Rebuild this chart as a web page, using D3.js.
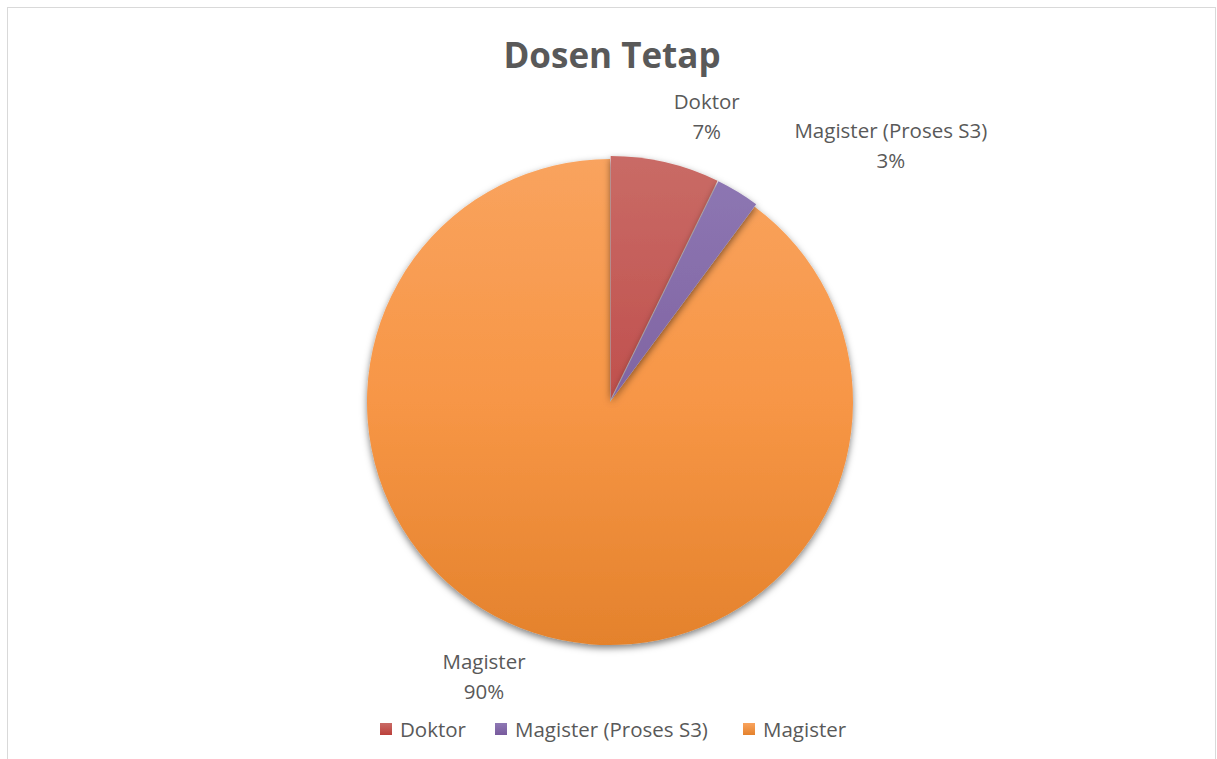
<!DOCTYPE html>
<html>
<head>
<meta charset="utf-8">
<script src="https://cdn.jsdelivr.net/npm/d3@7"></script>
<style>
  body { margin: 0; background: #fff; }
  text { font-family: "Open Sans", "Noto Sans", sans-serif; fill: #595959; }
</style>
</head>
<body>
<div id="chart"></div>
<script>
// Data
const categories = ['Doktor', 'Magister (Proses S3)', 'Magister'];
const values = [5, 2, 62];
const title = 'Dosen Tetap';

// Styling
const colorTop = ['#c96b66', '#8e78b4', '#f9a35e'];
const colorMid = ['#c0504d', '#8064a2', '#f79646'];
const colorBot = ['#bb403b', '#785a9d', '#e4822c'];
const explode = [3, 3, 0];
// label nudges relative to outer label arc
const labelNudge = [[29, 7], [125, 0], [-32, -10]];

const width = 1217, height = 759;
const cx = 610, cy = 402, radius = 243;

const svg = d3.select('#chart').append('svg')
  .attr('width', width)
  .attr('height', height);

// chart frame
svg.append('rect')
  .attr('x', 7.5).attr('y', 7.5)
  .attr('width', 1208).attr('height', 770)
  .attr('fill', '#fff')
  .attr('stroke', '#d9d9d9')
  .attr('stroke-width', 1);

const defs = svg.append('defs');

categories.forEach((c, i) => {
  const g = defs.append('linearGradient')
    .attr('id', 'grad' + i)
    .attr('gradientUnits', 'userSpaceOnUse')
    .attr('x1', 0).attr('y1', -radius)
    .attr('x2', 0).attr('y2', radius);
  g.append('stop').attr('offset', '0%').attr('stop-color', colorTop[i]);
  g.append('stop').attr('offset', '50%').attr('stop-color', colorMid[i]);
  g.append('stop').attr('offset', '100%').attr('stop-color', colorBot[i]);

  const lg = defs.append('linearGradient')
    .attr('id', 'lgrad' + i)
    .attr('x1', 0).attr('y1', 0).attr('x2', 0).attr('y2', 1);
  lg.append('stop').attr('offset', '0%').attr('stop-color', colorTop[i]);
  lg.append('stop').attr('offset', '100%').attr('stop-color', colorBot[i]);
});

const shadow = defs.append('filter')
  .attr('id', 'shadow')
  .attr('x', '-10%').attr('y', '-10%')
  .attr('width', '120%').attr('height', '120%');
shadow.append('feDropShadow')
  .attr('dx', 0).attr('dy', 3)
  .attr('stdDeviation', 3.5)
  .attr('flood-color', '#000')
  .attr('flood-opacity', 0.5);

// Title
svg.append('text')
  .attr('x', 612)
  .attr('y', 68)
  .attr('text-anchor', 'middle')
  .style('font-size', '35px')
  .style('font-weight', 'bold')
  .text(title);

// Pie
const total = d3.sum(values);
const pie = d3.pie().sort(null).value(d => d);
const arcs = pie(values);
const arc = d3.arc().innerRadius(0).outerRadius(radius);
const labelArc = d3.arc().innerRadius(300).outerRadius(300);

const g = svg.append('g')
  .attr('transform', `translate(${cx}, ${cy})`);

// draw big slice first so small exploded ones lie on top
const order = [2, 0, 1];
g.selectAll('path.slice')
  .data(order.map(i => ({ a: arcs[i], i })))
  .join('path')
  .attr('class', 'slice')
  .attr('d', d => arc(d.a))
  .attr('transform', d => {
    const mid = (d.a.startAngle + d.a.endAngle) / 2;
    return `translate(${Math.sin(mid) * explode[d.i]}, ${-Math.cos(mid) * explode[d.i]})`;
  })
  .attr('fill', d => `url(#grad${d.i})`)
  .attr('filter', 'url(#shadow)');

// Data labels
const labels = g.selectAll('g.label')
  .data(arcs)
  .join('g')
  .attr('class', 'label')
  .attr('transform', (d, i) => {
    const c = labelArc.centroid(d);
    return `translate(${c[0] + labelNudge[i][0]}, ${c[1] + labelNudge[i][1]})`;
  });

labels.append('text')
  .attr('text-anchor', 'middle')
  .attr('y', -8)
  .style('font-size', '20.5px')
  .text((d, i) => categories[i]);

labels.append('text')
  .attr('text-anchor', 'middle')
  .attr('y', 22)
  .style('font-size', '20.5px')
  .text(d => Math.round(d.value / total * 100) + '%');

// Legend
const legendX = [380, 495, 743];
const legend = svg.append('g')
  .attr('transform', 'translate(0, 729)');

const items = legend.selectAll('g')
  .data(categories)
  .join('g')
  .attr('transform', (d, i) => `translate(${legendX[i]}, 0)`);

items.append('rect')
  .attr('x', 0).attr('y', -6)
  .attr('width', 12).attr('height', 12)
  .attr('fill', (d, i) => `url(#lgrad${i})`);

items.append('text')
  .attr('x', 20)
  .attr('y', 8)
  .style('font-size', '20.5px')
  .text(d => d);
</script>
</body>
</html>
